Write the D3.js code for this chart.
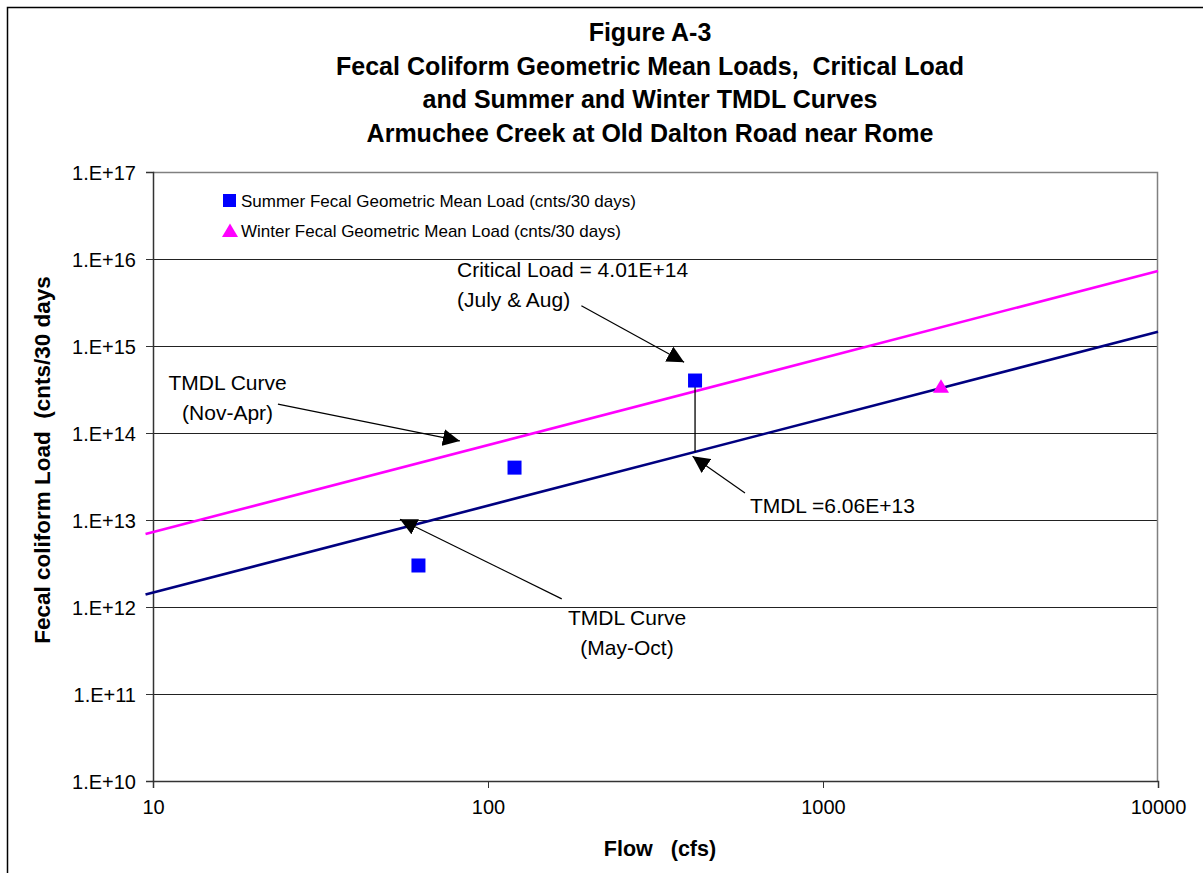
<!DOCTYPE html>
<html>
<head>
<meta charset="utf-8">
<script src="https://cdn.jsdelivr.net/npm/d3@7"></script>
<style>
  body { margin: 0; background: #fff; }
  svg { display: block; font-family: "Liberation Sans", Arial, sans-serif; }
</style>
</head>
<body>
<div id="chart-container"></div>
<script>
// Chart data
const summerFlow = [62, 120, 415];
const summerLoad = [3.0e12, 4.0e13, 4.01e14];
const winterFlow = [2250];
const winterLoad = [3.4e14];

// TMDL curves (end points of straight lines on log-log axes)
const summerTmdlFlow = [9.5, 10000];
const summerTmdlLoad = [1.39e12, 1.46e15];
const winterTmdlFlow = [9.5, 10000];
const winterTmdlLoad = [6.9e12, 7.3e15];

const xTicks = [10, 100, 1000, 10000];
const yTicks = [1e10, 1e11, 1e12, 1e13, 1e14, 1e15, 1e16, 1e17];

const titleLines = [
    "Figure A-3",
    "Fecal Coliform Geometric Mean Loads,\u00a0 Critical Load",
    "and Summer and Winter TMDL Curves",
    "Armuchee Creek at Old Dalton Road near Rome"
];

// Set up dimensions
const W = 1203, H = 873;
const margin = { top: 172, right: 45, bottom: 92, left: 153 };
const width = W - margin.left - margin.right;
const height = H - margin.top - margin.bottom;

const svg = d3.select("#chart-container")
    .append("svg")
    .attr("width", W)
    .attr("height", H);

svg.append("rect").attr("width", W).attr("height", H).attr("fill", "#fff");

// outer chart border
svg.append("rect")
    .attr("x", 7.5).attr("y", 7.5)
    .attr("width", W + 20).attr("height", H + 20)
    .attr("fill", "none").attr("stroke", "#000").attr("stroke-width", 1.5);

// arrow head
svg.append("defs").append("marker")
    .attr("id", "arrow")
    .attr("viewBox", "0 0 10 10")
    .attr("refX", 10).attr("refY", 5)
    .attr("markerWidth", 17).attr("markerHeight", 17)
    .attr("markerUnits", "userSpaceOnUse")
    .attr("orient", "auto")
    .append("path")
    .attr("d", "M0,0 L10,5 L0,10 Z")
    .attr("fill", "#000");

const g = svg.append("g")
    .attr("transform", "translate(" + margin.left + "," + margin.top + ")");

// Scales
const x = d3.scaleLog().domain([10, 10000]).range([0, width]);
const y = d3.scaleLog().domain([1e10, 1e17]).range([height, 0]);

// gridlines
g.selectAll(".grid")
    .data(yTicks.slice(1, -1))
    .enter()
    .append("line")
    .attr("x1", 0).attr("x2", width)
    .attr("y1", d => Math.round(y(d)) + 0.5)
    .attr("y2", d => Math.round(y(d)) + 0.5)
    .attr("stroke", "#222").attr("stroke-width", 1);

// plot area border (top/right gray)
g.append("path")
    .attr("d", `M0,0.5 H${width - 0.5} V${height}`)
    .attr("fill", "none").attr("stroke", "#808080").attr("stroke-width", 1.5);

// Axes
const yAxis = g.append("g")
    .call(d3.axisLeft(y).tickValues(yTicks).tickSize(7).tickPadding(10)
        .tickFormat(d => "1.E+" + Math.round(Math.log10(d))));
const xAxis = g.append("g")
    .attr("transform", "translate(0," + height + ")")
    .call(d3.axisBottom(x).tickValues(xTicks).tickSize(7).tickPadding(12)
        .tickFormat(d3.format("d")));

[yAxis, xAxis].forEach(a => {
    a.select(".domain").attr("stroke", "#333").attr("stroke-width", 1.5);
    a.selectAll(".tick line").attr("stroke", "#333");
    a.selectAll("text")
        .style("font-family", "Liberation Sans, Arial, sans-serif")
        .style("font-size", "20px")
        .attr("fill", "#000");
});
yAxis.selectAll("text").attr("dy", "0.36em");

// TMDL curves
const line = d3.line().x(d => x(d[0])).y(d => y(d[1]));
g.append("path")
    .datum(winterTmdlFlow.map((f, i) => [f, winterTmdlLoad[i]]))
    .attr("d", line)
    .attr("fill", "none").attr("stroke", "#ff00ff").attr("stroke-width", 2.6);
g.append("path")
    .datum(summerTmdlFlow.map((f, i) => [f, summerTmdlLoad[i]]))
    .attr("d", line)
    .attr("fill", "none").attr("stroke", "#000080").attr("stroke-width", 2.6);

// drop line from critical load to TMDL
const critFlow = 415, critLoad = 4.01e14, tmdlLoad = 6.06e13;
g.append("line")
    .attr("x1", x(critFlow)).attr("x2", x(critFlow))
    .attr("y1", y(critLoad)).attr("y2", y(tmdlLoad))
    .attr("stroke", "#000").attr("stroke-width", 1.3);

// Summer points
const sq = 14;
g.selectAll(".summer")
    .data(summerFlow.map((f, i) => [f, summerLoad[i]]))
    .enter()
    .append("rect")
    .attr("x", d => x(d[0]) - sq / 2)
    .attr("y", d => y(d[1]) - sq / 2)
    .attr("width", sq).attr("height", sq)
    .attr("fill", "#0000ff");

// Winter points
const tri = "M0,-7.5 L8,6 L-8,6 Z";
g.selectAll(".winter")
    .data(winterFlow.map((f, i) => [f, winterLoad[i]]))
    .enter()
    .append("path")
    .attr("d", tri)
    .attr("transform", d => `translate(${x(d[0])},${y(d[1])})`)
    .attr("fill", "#ff00ff");

// Annotations: text anchor and arrow in data units [flow, load]
const annotations = [
    { lines: ["Critical Load = 4.01E+14", "(July & Aug)"], at: [80.8, 6.2e15], anchor: "start",
      from: [190, 2.9e15], to: [385, 6.5e14] },
    { lines: ["TMDL Curve", "(Nov-Apr)"], at: [16.7, 3.1e14], anchor: "middle",
      from: [23.6, 2.15e14], to: [82.4, 8.1e13] },
    { lines: ["TMDL =6.06E+13"], at: [605, 1.2e13], anchor: "start",
      from: [585, 2.04e13], to: [408, 5.4e13] },
    { lines: ["TMDL Curve", "(May-Oct)"], at: [260, 6.2e11], anchor: "middle",
      from: [166, 1.24e12], to: [54.6, 1.02e13] }
];

annotations.forEach(a => {
    g.append("line")
        .attr("x1", x(a.from[0])).attr("y1", y(a.from[1]))
        .attr("x2", x(a.to[0])).attr("y2", y(a.to[1]))
        .attr("stroke", "#000").attr("stroke-width", 1.2)
        .attr("marker-end", "url(#arrow)");
    a.lines.forEach((t, i) => {
        g.append("text")
            .attr("x", x(a.at[0]))
            .attr("y", y(a.at[1]) + i * 30)
            .attr("text-anchor", a.anchor)
            .style("font-size", "21px")
            .text(t);
    });
});

// Legend
const legend = g.append("g").attr("transform", "translate(70,0)");
legend.append("rect")
    .attr("x", 0).attr("y", 22).attr("width", 13).attr("height", 13)
    .attr("fill", "#0000ff");
legend.append("text")
    .attr("x", 18).attr("y", 35)
    .style("font-size", "17px")
    .text("Summer Fecal Geometric Mean Load (cnts/30 days)");
legend.append("path")
    .attr("d", tri)
    .attr("transform", "translate(7,59)")
    .attr("fill", "#ff00ff");
legend.append("text")
    .attr("x", 18).attr("y", 65)
    .style("font-size", "17px")
    .text("Winter Fecal Geometric Mean Load (cnts/30 days)");

// Title
svg.selectAll(".title")
    .data(titleLines)
    .enter()
    .append("text")
    .attr("x", 650)
    .attr("y", (d, i) => 41 + i * 33.5)
    .attr("text-anchor", "middle")
    .style("font-size", "25px")
    .style("font-weight", "bold")
    .text(d => d);

// Axis titles
svg.append("text")
    .attr("x", 660)
    .attr("y", 856)
    .attr("text-anchor", "middle")
    .style("font-size", "21.5px")
    .style("font-weight", "bold")
    .text("Flow \u00a0 (cfs)");

svg.append("text")
    .attr("transform", "translate(50,460) rotate(-90)")
    .attr("text-anchor", "middle")
    .style("font-size", "22.5px")
    .style("font-weight", "bold")
    .text("Fecal coliform Load \u00a0(cnts/30 days");
</script>
</body>
</html>
